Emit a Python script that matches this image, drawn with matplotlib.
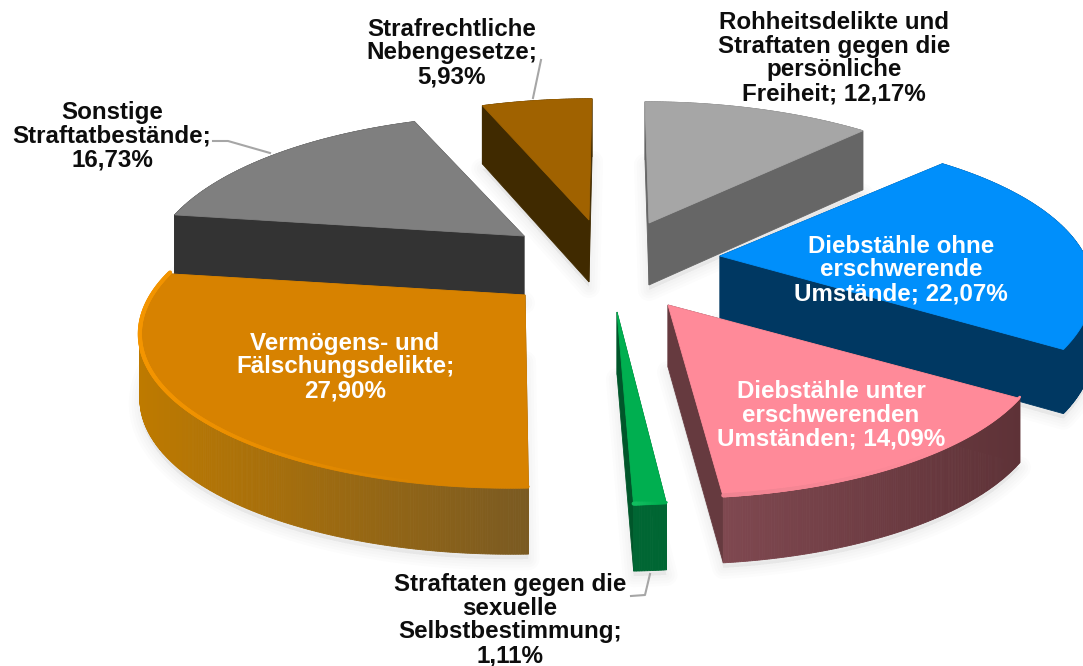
import numpy as np
import matplotlib
matplotlib.use("Agg")
import matplotlib.pyplot as plt
from matplotlib.patches import Polygon
from matplotlib.colors import to_rgb

# --- data ---
categories = [
    "Rohheitsdelikte und\nStraftaten gegen die\npersönliche\nFreiheit",
    "Diebstähle ohne\nerschwerende\nUmstände",
    "Diebstähle unter\nerschwerenden\nUmständen",
    "Straftaten gegen die\nsexuelle\nSelbstbestimmung",
    "Vermögens- und\nFälschungsdelikte",
    "Sonstige\nStraftatbestände",
    "Strafrechtliche\nNebengesetze",
]
values = [12.17, 22.07, 14.09, 1.11, 27.90, 16.73, 5.93]

# --- style / layout ---
top_colors = ["#A6A6A6", "#008FFB", "#FF8A99", "#00AF50", "#D78200", "#7F7F7F", "#A06200"]
cut_colors = ["#666666", "#003862", "#663A3F", "#00562A", "#8A5A10", "#333333", "#402A00"]
rim_start = ["#6E6E6E", "#003862", "#7F4850", "#006633", "#BE7A00", "#333333", "#402A00"]
rim_end = ["#666666", "#003862", "#5E3237", "#006633", "#7A5A22", "#333333", "#402A00"]
bevel = [None, None, "#F08492", "#12BE60", "#F49500", None, None]
text_colors = ["#0D0D0D", "white", "white", "#0D0D0D", "white", "#0D0D0D", "#0D0D0D"]
value_sep = ["; ", "; ", "; ", ";\n", ";\n", ";\n", ";\n"]
label_xy = [(834, 58), (901, 270), (831, 415), (510, 620), (345, 367), (112, 136), (452, 53)]
centre = (600, 260)
explode_dx = [49, 120, 68, 17, -75, -76, -11]
explode_dy = [-37, -4, 45, 52, 35, -24, -40]
radius_scale = [1, 1, 1, 1, 1.02, 1, 1]
shear = [0.033, -0.06, 0.03, 0, -0.07, 0, -0.025]
R, B, K = 365, 149, 0.229
DEPTH = 62
FONT_SIZE = 17.4
leaders = [
    [(541, 60), (533, 98)],
    [(213, 141), (228, 141), (270, 153)],
    [(631, 596), (645, 595), (650, 574)],
]

fig = plt.figure(figsize=(10.83, 6.66), dpi=100)
ax = fig.add_axes([0, 0, 1, 1])
ax.set_xlim(0, 1083)
ax.set_ylim(666, 0)
ax.axis("off")


def project(theta, scale, sh):
    s = 1 / (1 + K * np.cos(theta))
    y = -B * np.cos(theta) * s
    return scale * R * np.sin(theta) * s + sh * y, y


def depth_at(theta):
    return DEPTH - 4 * np.cos(theta)


edges = np.cumsum([0] + values) / sum(values) * 2 * np.pi
order = np.argsort(explode_dy)

# soft shadows below the slices
for i in order:
    th = np.linspace(edges[i], edges[i + 1], 80)
    x, y = project(th, radius_scale[i], shear[i])
    cx, cy = centre[0] + explode_dx[i], centre[1] + explode_dy[i]
    pts = np.column_stack([np.r_[cx, cx + x], np.r_[cy + DEPTH + 5, cy + y + depth_at(th) + 5]])
    for lw in (16, 12, 8, 4):
        ax.add_patch(Polygon(pts, closed=True, fc="black", ec="black", lw=lw, alpha=0.012,
                             joinstyle="round", zorder=1))

for rank, i in enumerate(order):
    z = 2 + rank
    th = np.linspace(edges[i], edges[i + 1], max(8, int(values[i] * 12)))
    x, y = project(th, radius_scale[i], shear[i])
    cx, cy = centre[0] + explode_dx[i], centre[1] + explode_dy[i]
    ox, oy = cx + x, cy + y
    d = depth_at(th)

    faces = []
    # cut faces
    for (px, py, pd) in ((ox[0], oy[0], d[0]), (ox[-1], oy[-1], d[-1])):
        q = [(cx, cy), (px, py), (px, py + pd), (cx, cy + DEPTH)]
        faces.append((np.mean([p[1] for p in q]), q, to_rgb(cut_colors[i])))
    # outer wall with a gradient along the arc (left to right on screen)
    c0, c1 = np.array(to_rgb(rim_start[i])), np.array(to_rgb(rim_end[i]))
    xmin, xmax = ox.min(), ox.max()
    for k in range(len(th) - 1):
        q = [(ox[k], oy[k]), (ox[k + 1], oy[k + 1]),
             (ox[k + 1], oy[k + 1] + d[k + 1]), (ox[k], oy[k] + d[k])]
        t = ((ox[k] + ox[k + 1]) / 2 - xmin) / max(xmax - xmin, 1)
        faces.append((np.mean([p[1] for p in q]), q, tuple(c0 + (c1 - c0) * t)))
    for _, q, col in sorted(faces, key=lambda f: f[0]):
        ax.add_patch(Polygon(q, closed=True, fc=col, ec=col, lw=0.6, zorder=z))

    # top face
    pts = np.column_stack([np.r_[cx, ox], np.r_[cy, oy]])
    ax.add_patch(Polygon(pts, closed=True, fc=top_colors[i], ec=top_colors[i], lw=0.6, zorder=z + 0.2))

    # bevel highlight that fades away from the left end of the arc
    if bevel[i]:
        b_col = np.array(to_rgb(bevel[i]))
        t_col = np.array(to_rgb(top_colors[i]))
        xmid = xmin + 0.75 * (xmax - xmin)
        for k in range(len(th) - 1):
            f = np.clip(((ox[k] + ox[k + 1]) / 2 - xmin) / max(xmid - xmin, 1), 0, 1)
            ax.plot(ox[k:k + 2], oy[k:k + 2] - 1.5, color=tuple(b_col + (t_col - b_col) * f),
                    lw=3.0 - 1.2 * f, solid_capstyle="round", zorder=z + 0.3)

for pts in leaders:
    ax.plot(*zip(*pts), color="#A6A6A6", lw=1.5, zorder=20)

for name, v, sep, xy, col in zip(categories, values, value_sep, label_xy, text_colors):
    ax.text(xy[0], xy[1], name + sep + f"{v:.2f}".replace(".", ",") + "%",
            ha="center", va="center", ma="center", color=col, fontsize=FONT_SIZE,
            fontweight="bold", family="Liberation Sans", linespacing=1.04, zorder=30)

fig.savefig("out.png", dpi=100, facecolor="white")
